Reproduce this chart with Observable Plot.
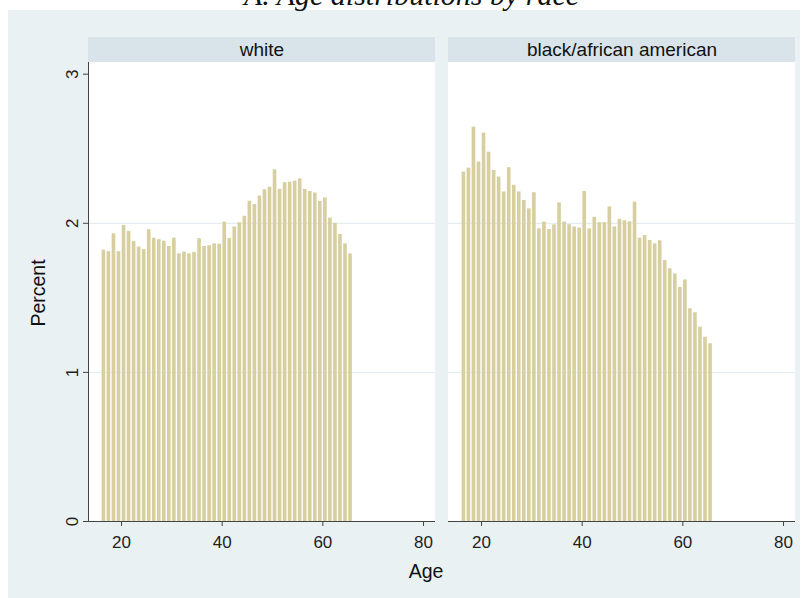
<!DOCTYPE html>
<html>
<head>
<meta charset="utf-8">
<script src="https://cdn.jsdelivr.net/npm/d3@7"></script>
<script src="https://cdn.jsdelivr.net/npm/@observablehq/plot@0.6"></script>
<style>
  html, body { margin: 0; padding: 0; background: #ffffff; }
  #wrap { position: relative; width: 812px; height: 598px; overflow: hidden; background: #ffffff; }
  #bg { position: absolute; left: 8px; top: 10px; width: 792px; height: 588px; background: #eaf1f3; }
  #chart { position: absolute; left: 0; top: 0; }
  #title { position: absolute; left: 0; top: -20px; width: 823px; text-align: center;
           font-family: "Liberation Serif", "Times New Roman", serif; font-style: italic;
           font-size: 30px; line-height: 30px; color: #111; white-space: nowrap; }
</style>
</head>
<body>
<div id="wrap">
  <div id="bg"></div>
  <div id="chart"></div>
  <div id="title">A. Age distributions by race</div>
</div>
<script>
// ---- data ----
const races = ["white", "black/african american"];
const ages = [16,17,18,19,20,21,22,23,24,25,26,27,28,29,30,31,32,33,34,35,36,37,38,39,40,
              41,42,43,44,45,46,47,48,49,50,51,52,53,54,55,56,57,58,59,60,61,62,63,64,65];
const whitePct = [1.82,1.81,1.93,1.81,1.985,1.946,1.877,1.841,1.823,1.957,
                  1.90,1.89,1.88,1.845,1.90,1.795,1.807,1.795,1.805,1.897,
                  1.845,1.85,1.862,1.86,2.008,1.897,1.975,2.004,2.047,2.148,
                  2.126,2.183,2.225,2.242,2.359,2.227,2.272,2.276,2.283,2.298,
                  2.227,2.213,2.203,2.147,2.17,2.035,2.0,1.925,1.862,1.795];
const blackPct = [2.343,2.37,2.645,2.41,2.605,2.477,2.354,2.31,2.21,2.373,
                  2.255,2.21,2.153,2.097,2.205,1.963,2.008,1.958,1.99,2.137,
                  2.008,1.99,1.975,1.968,2.213,1.963,2.04,2.004,2.004,2.11,
                  1.975,2.026,2.017,2.01,2.142,1.90,1.918,1.885,1.862,1.883,
                  1.75,1.695,1.66,1.57,1.62,1.427,1.40,1.303,1.236,1.192];
const xTicks = [20, 40, 60, 80];
const yTicks = [0, 1, 2, 3];
const gridTicks = [1, 2];

// ---- build table ----
const rows = [];
ages.forEach((a, i) => {
  rows.push({race: races[0], age: a, pct: whitePct[i]});
  rows.push({race: races[1], age: a, pct: blackPct[i]});
});

// ---- layout / style ----
const W = 812, H = 598;
const xDomain = [13.44, 82.38];
const yMax = 3.246, panelTop = 3.078;
const barColor = "#d7cfa0";
const stripColor = "#d8e4ea";
const gridColor = "#dfe9ed";
const axisColor = "#444";
const font = "'Liberation Sans', Arial, Helvetica, sans-serif";

const yLabelData = yTicks.map(v => ({v, race: races[0]}));

const plot = Plot.plot({
  width: W, height: H,
  marginLeft: 88, marginRight: 17, marginTop: 37, marginBottom: 77,
  style: {background: "transparent", overflow: "visible", fontFamily: font},
  fx: {domain: races, axis: null, paddingInner: 13 / 360, paddingOuter: 0},
  x: {domain: xDomain},
  y: {domain: [0, yMax], axis: null},
  marks: [
    // panel backgrounds
    Plot.rect(races, {fx: d => d, x1: () => xDomain[0], x2: () => xDomain[1], y1: () => 0, y2: () => panelTop, fill: "#ffffff"}),
    // facet strips
    Plot.rect(races, {fx: d => d, x1: () => xDomain[0], x2: () => xDomain[1], y1: () => panelTop, y2: () => yMax, fill: stripColor}),
    Plot.text(races, {fx: d => d, x: () => (xDomain[0] + xDomain[1]) / 2, y: () => (panelTop + yMax) / 2,
      text: d => d, fontSize: 19, fill: "#111", lineAnchor: "middle"}),
    // gridlines
    Plot.ruleY(gridTicks, {y: d => d, stroke: gridColor, strokeWidth: 1}),
    // bars
    Plot.rectY(rows, {fx: "race", x1: "age", x2: d => d.age + 1, y: "pct", fill: barColor,
      insetLeft: 0.7, insetRight: 0.7}),
    // x axis line
    Plot.ruleY([0], {stroke: axisColor, strokeWidth: 1}),
    // y axis line (left panel only)
    Plot.ruleX([races[0]], {fx: d => d, x: () => xDomain[0], y1: () => 0, y2: () => panelTop, stroke: axisColor, strokeWidth: 1}),
    // x axis ticks + labels
    Plot.axisX({ticks: xTicks, tickSize: 5, tickPadding: 9, fontSize: 17, label: null, stroke: axisColor, color: "#222"}),
    // y ticks and rotated labels (left panel only)
    Plot.ruleY(yLabelData, {fx: "race", y: "v", x1: () => xDomain[0] - 5 / 5.033, x2: () => xDomain[0], stroke: axisColor, strokeWidth: 1}),
    Plot.text(yLabelData, {fx: "race", y: "v", x: () => xDomain[0], text: d => String(d.v), rotate: -90,
      dx: -16, fontSize: 17, fill: "#222", lineAnchor: "middle", textAnchor: "middle"})
  ]
});

document.getElementById("chart").appendChild(plot);

const svg = d3.select(plot);
svg.append("text")
  .attr("x", 37.5).attr("y", 293)
  .attr("transform", "rotate(-90, 37.5, 293)")
  .attr("text-anchor", "middle").attr("dominant-baseline", "central")
  .style("font-family", font).style("font-size", "19.5px").style("fill", "#111")
  .text("Percent");
svg.append("text")
  .attr("x", 426).attr("y", 578)
  .attr("text-anchor", "middle")
  .style("font-family", font).style("font-size", "19.5px").style("fill", "#111")
  .text("Age");
</script>
</body>
</html>
